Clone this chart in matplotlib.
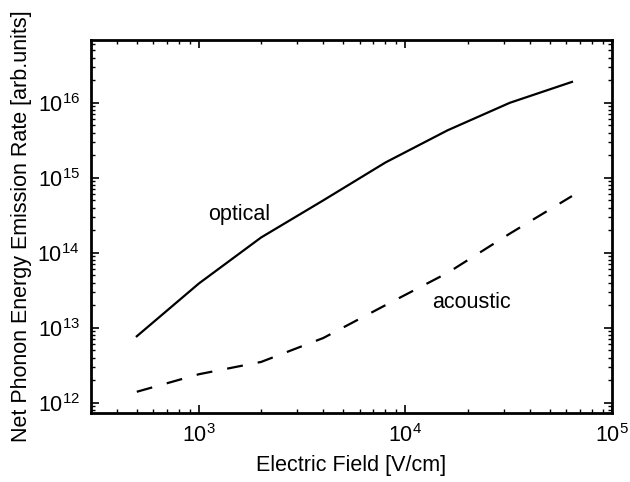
import math
import matplotlib
matplotlib.use('Agg')
import matplotlib.pyplot as plt
from matplotlib.ticker import LogLocator, FuncFormatter, NullFormatter

plt.rcParams['font.family'] = ['Liberation Sans', 'DejaVu Sans']
plt.rcParams['mathtext.fontset'] = 'custom'
plt.rcParams['mathtext.rm'] = 'Liberation Sans'

field = [500, 1000, 2000, 4000, 8000, 16000, 32000, 64000]
optical = [7.7e12, 3.9e13, 1.6e14, 5.0e14, 1.6e15, 4.3e15, 1.0e16, 1.9e16]
acoustic = [1.4e12, 2.4e12, 3.5e12, 7.3e12, 2.0e13, 5.4e13, 1.8e14, 5.7e14]

fs = 15.5

fig = plt.figure(figsize=(6.3, 4.82), dpi=100)
ax = fig.add_axes([0.1444, 0.1432, 0.827, 0.774])

ax.loglog(field, optical, 'k-', lw=1.6)
ax.loglog(field, acoustic, 'k--', lw=1.6, dashes=(7.2, 6.8))

ax.set_xlim(300, 1e5)
ax.set_ylim(7.3e11, 6.9e16)

ax.text(1570, 3.2e14, 'optical', fontsize=fs, ha='center', va='center')
ax.text(2.09e4, 2.14e13, 'acoustic', fontsize=fs, ha='center', va='center')

fmt = FuncFormatter(lambda v, p: r'$\mathrm{10^{%d}}$' % round(math.log10(v)))
ax.xaxis.set_major_formatter(fmt)
ax.yaxis.set_major_formatter(fmt)
ax.xaxis.set_minor_formatter(NullFormatter())
ax.yaxis.set_minor_formatter(NullFormatter())
ax.xaxis.set_major_locator(LogLocator(base=10, numticks=10))
ax.yaxis.set_major_locator(LogLocator(base=10, numticks=10))

ax.tick_params(which='both', direction='in', top=True, right=True, labelsize=fs)
ax.tick_params(which='major', length=6, width=1.2, pad=8)
ax.tick_params(which='minor', length=3, width=1.0)
for s in ax.spines.values():
    s.set_linewidth(2)

ax.set_xlabel('Electric Field [V/cm]', fontsize=fs, labelpad=6)
ax.set_ylabel('Net Phonon Energy Emission Rate [arb.units]', fontsize=fs, labelpad=4)

fig.savefig('out.png', dpi=100)
